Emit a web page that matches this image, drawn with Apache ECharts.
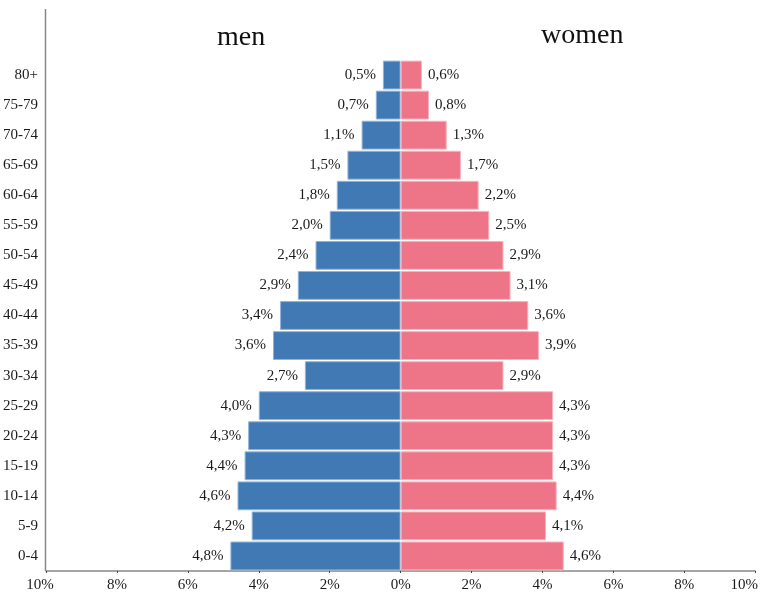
<!DOCTYPE html>
<html>
<head>
<meta charset="utf-8">
<title>Population pyramid</title>
<script src="https://cdn.jsdelivr.net/npm/echarts@6/dist/echarts.min.js"></script>
<style>
  html, body { margin: 0; padding: 0; background: #fff; }
  #chart { width: 761px; height: 595px; }
</style>
</head>
<body>
<div id="chart"></div>
<script>
// Age groups, top to bottom as drawn
const ageGroups = ['80+', '75-79', '70-74', '65-69', '60-64', '55-59', '50-54', '45-49',
  '40-44', '35-39', '30-34', '25-29', '20-24', '15-19', '10-14', '5-9', '0-4'];
// Share of population, percent
const menShare = [0.5, 0.7, 1.1, 1.5, 1.8, 2.0, 2.4, 2.9, 3.4, 3.6, 2.7, 4.0, 4.3, 4.4, 4.6, 4.2, 4.8];
const womenShare = [0.6, 0.8, 1.3, 1.7, 2.2, 2.5, 2.9, 3.1, 3.6, 3.9, 2.9, 4.3, 4.3, 4.3, 4.4, 4.1, 4.6];
// X axis tick values
const xTicks = { min: -10, max: 10, step: 2 };

const serif = '"Liberation Serif", "DejaVu Serif", serif';
const pct = v => Math.abs(v).toFixed(1).replace('.', ',') + '%';

const chart = echarts.init(document.getElementById('chart'), null, { renderer: 'canvas' });

const tickFont = { fontFamily: serif, fontSize: 15, color: '#1a1a1a' };

chart.setOption({
  animation: false,
  backgroundColor: '#ffffff',
  title: [
    { text: 'men', left: 212, top: 19, textStyle: { fontFamily: serif, fontSize: 28, fontWeight: 'normal', color: '#111' } },
    { text: 'women', left: 536, top: 17, textStyle: { fontFamily: serif, fontSize: 28, fontWeight: 'normal', color: '#111' } }
  ],
  grid: { left: 46, right: 3, top: 60, bottom: 24, containLabel: false },
  xAxis: {
    type: 'value',
    min: xTicks.min,
    max: xTicks.max,
    interval: xTicks.step,
    axisLine: { show: true, lineStyle: { color: '#888', width: 1.5 } },
    axisTick: { show: true, length: 2, lineStyle: { color: '#444' } },
    splitLine: { show: false },
    axisLabel: {
      // end labels sit nudged inward of their ticks
      formatter: v => {
        const t = Math.abs(v) + '%';
        if (v === xTicks.min) return '{lo|' + t + '}';
        if (v === xTicks.max) return '{hi|' + t + '}';
        return t;
      },
      rich: {
        lo: Object.assign({ padding: [0, 12, 0, 0] }, tickFont),
        hi: Object.assign({ padding: [0, 22, 0, 0] }, tickFont)
      },
      ...tickFont,
      margin: 7
    }
  },
  yAxis: {
    type: 'category',
    data: ageGroups.slice().reverse(),
    axisLine: { show: false },
    axisTick: { show: false },
    axisLabel: { ...tickFont, margin: 8 }
  },
  graphic: [
    // vertical axis rule, running above the plot up to the heading band
    { type: 'line', shape: { x1: 45.5, y1: 9, x2: 45.5, y2: 571 }, style: { stroke: '#888', lineWidth: 1.5 }, silent: true }
  ],
  series: [
    {
      name: 'men',
      type: 'bar',
      stack: 'pop',
      barCategoryGap: '4%',
      data: menShare.map(v => -v).reverse(),
      itemStyle: { color: '#4179b5', borderColor: '#8fb5dc', borderWidth: 1 },
      label: {
        show: true, position: 'left', distance: 7,
        formatter: p => pct(p.value),
        ...tickFont
      }
    },
    {
      name: 'women',
      type: 'bar',
      stack: 'pop',
      barCategoryGap: '4%',
      data: womenShare.slice().reverse(),
      itemStyle: { color: '#ee7487', borderColor: '#f7b3bd', borderWidth: 1 },
      label: {
        show: true, position: 'right', distance: 6,
        formatter: p => pct(p.value),
        ...tickFont
      }
    }
  ]
});
</script>
</body>
</html>
